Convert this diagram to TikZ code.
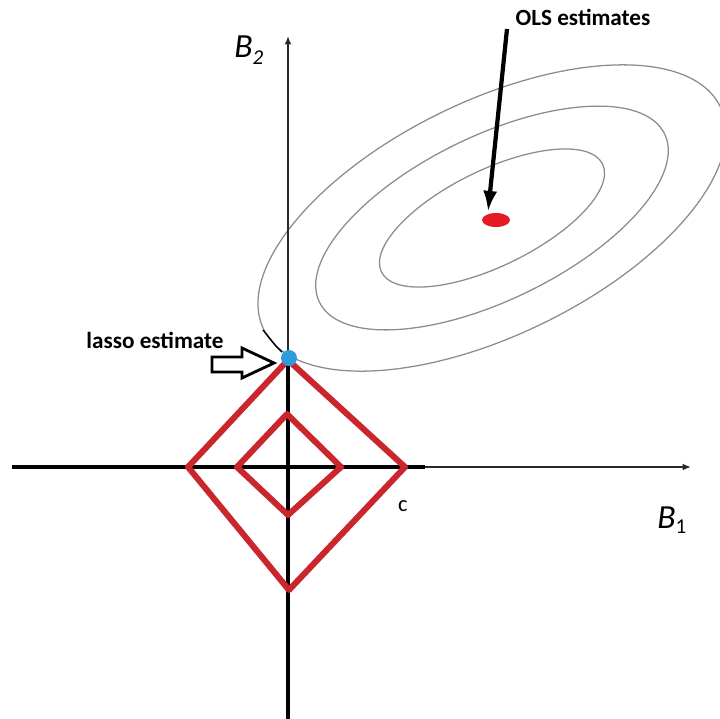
\documentclass[tikz,border=0pt]{standalone}
\usepackage{fontspec}
\setmainfont{Carlito}
\usetikzlibrary{arrows.meta}

\begin{document}
\begin{tikzpicture}[x=0.025cm, y=-0.025cm,
  asse/.style={line width=1.5pt, draw=grigioAsse, -{Latex[length=6pt,width=5pt]}},
  assespesso/.style={line width=2.6pt, draw=black},
  contorno/.style={draw=grigioCont, line width=0.9pt},
  rombo/.style={draw=rossoLasso, line width=4.3pt, line join=round},
  etichetta/.style={font=\fontsize{16.5}{18}\selectfont\bfseries, inner sep=0pt, anchor=base},
  nomeasse/.style={font=\fontsize{24}{26}\selectfont\itshape, inner sep=0pt, anchor=base west}]

% Colori
\definecolor{rossoLasso}{HTML}{C9272D}
\definecolor{bluPunto}{HTML}{2E9CDB}
\definecolor{rossoOLS}{HTML}{E31B23}
\definecolor{grigioCont}{HTML}{8C8C8C}
\definecolor{grigioAsse}{HTML}{2A2A2A}

% Cornice
\useasboundingbox (0,0) rectangle (719,719);

% Punti
\coordinate (O) at (288,467);
\coordinate (ols) at (496,220);
\coordinate (centro) at (492,218);
\coordinate (lasso) at (289,358);

% Curve di livello
\draw[contorno, rotate around={26:(centro)}] (centro) ellipse [x radius=123, y radius=48];
\draw[contorno, rotate around={26:(centro)}] (centro) ellipse [x radius=192, y radius=82];
\draw[contorno, rotate around={26:(centro)}] (centro) ellipse [x radius=254, y radius=117];
\draw[black, line width=1pt] (263,330) -- (276,346) -- (282,352);

% Assi
\draw[asse] (12,467) -- (691,467);
\draw[asse] (288,719) -- (288,36);
\draw[assespesso] (12,467) -- (425,467);
\draw[assespesso] (288,719) -- (288,352);

% Rombi
\draw[rombo] (288,360) -- (405,467) -- (289,590) -- (188,467) -- cycle;
\draw[rombo] (287,414) -- (341,467) -- (288,515) -- (237,467) -- cycle;

% Stime
\fill[rossoOLS] (ols) ellipse [x radius=14, y radius=7];
\fill[bluPunto] (lasso) circle (8);

% Etichette
\node[nomeasse] (b2) at (234,57) {B\raisebox{-5pt}{\fontsize{15}{15}\selectfont 2}};
\node[nomeasse] (b1) at (657,528) {B\raisebox{-4pt}{\fontsize{15}{15}\selectfont\upshape 1}};
\node[font=\fontsize{16}{18}\selectfont, inner sep=0pt, anchor=base] (c) at (403,511) {c};
\node[etichetta] (olslabel) at (583,25) {OLS estimates};
\node[etichetta] (lassolabel) at (155,348) {lasso estimate};

% Freccia OLS
\coordinate (olsstart) at (507,29);
\coordinate (olstip) at (488,212);
\draw[line width=3pt, -{Latex[length=15pt,width=10pt]}] (olsstart) -- (olstip);

% Freccia vuota
\draw[line width=2pt, line join=miter, fill=white]
  (212,357) -- (242,357) -- (242,348) -- (274,363) -- (242,378) -- (242,372) -- (212,372) -- cycle;

\end{tikzpicture}
\end{document}
